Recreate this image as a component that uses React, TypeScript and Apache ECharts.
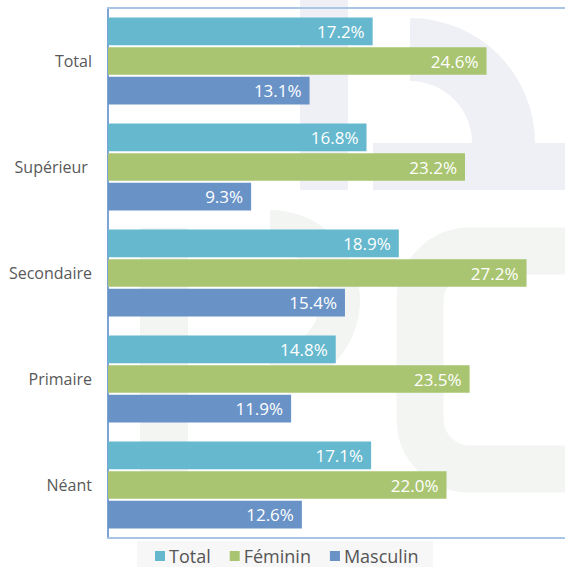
import React, { useEffect, useRef } from "react";
import * as echarts from "echarts";

const categories = ["Total", "Supérieur ", "Secondaire", "Primaire", "Néant"];
const seriesNames = ["Total", "Féminin", "Masculin"];
const totalValues = [17.2, 16.8, 18.9, 14.8, 17.1];
const femininValues = [24.6, 23.2, 27.2, 23.5, 22.0];
const masculinValues = [13.1, 9.3, 15.4, 11.9, 12.6];
const colors = ["#65b8cd", "#a9c571", "#6992c7"];

export default function App() {
  const ref = useRef<HTMLDivElement>(null);
  useEffect(() => {
    const chart = echarts.init(ref.current!, null, { renderer: "svg" });
    const wmBlue = "#eff0f6";
    const wmGreen = "#f3f5f2";
    const label = {
      show: true,
      position: "insideRight",
      distance: 8,
      color: "#ffffff",
      fontSize: 17,
      fontFamily: "Open Sans",
      formatter: (p: any) => p.value.toFixed(1) + "%",
    };
    const data = [totalValues, femininValues, masculinValues];
    const frameLine = { show: true, lineStyle: { color: "#a9c5e6", width: 2 } };
    chart.setOption({
      animation: false,
      backgroundColor: "#ffffff",
      graphic: [
        { type: "rect", z: -10, shape: { x: 300, y: 0, width: 48, height: 190 }, style: { fill: wmBlue } },
        { type: "rect", z: -10, shape: { x: 373, y: 143, width: 200, height: 47 }, style: { fill: wmBlue } },
        {
          type: "sector", z: -10,
          shape: { cx: 410, cy: 143, r: 125, r0: 62, startAngle: -Math.PI / 2, endAngle: 0, clockwise: true },
          style: { fill: wmBlue },
        },
        {
          type: "rect", z: -10,
          shape: { x: 420, y: 251, width: 250, height: 218, r: 50 },
          style: { fill: "none", stroke: wmGreen, lineWidth: 47 },
        },
        { type: "rect", z: -10, shape: { x: 140, y: 228, width: 48, height: 265 }, style: { fill: wmGreen } },
        {
          type: "sector", z: -10,
          shape: { cx: 270, cy: 300, r: 90, r0: 50, startAngle: -Math.PI / 2, endAngle: Math.PI / 2, clockwise: true },
          style: { fill: wmGreen },
        },
        {
          type: "rect", z: -10, left: 137, top: 541,
          shape: { x: 0, y: 0, width: 296, height: 26 },
          style: { fill: "#f7f7f7" },
        },
      ],
      legend: {
        data: seriesNames,
        bottom: 1,
        left: 150,
        itemWidth: 10,
        itemHeight: 10,
        itemGap: 19,
        icon: "rect",
        padding: [4, 5, 1, 5],
        textStyle: { fontSize: 18, lineHeight: 18, color: "#555555", fontFamily: "Open Sans", padding: [0, 0, 0, -1] },
      },
      grid: {
        left: 108,
        top: 8,
        height: 530,
        right: -4,
        show: false,
      },
      xAxis: [
        {
          type: "value",
          min: 0,
          max: 29.7,
          position: "bottom",
          axisLine: frameLine,
          axisTick: { show: false },
          axisLabel: { show: false },
          splitLine: { show: false },
        },
        {
          type: "value",
          min: 0,
          max: 29.7,
          position: "top",
          axisLine: frameLine,
          axisTick: { show: false },
          axisLabel: { show: false },
          splitLine: { show: false },
        },
      ],
      yAxis: {
        type: "category",
        data: categories,
        inverse: true,
        axisLine: { show: true, lineStyle: { color: "#7ea4d6", width: 2 } },
        axisTick: { show: false },
        axisLabel: { fontSize: 16, color: "#595959", fontFamily: "Open Sans", margin: 16 },
      },
      series: seriesNames.map((name, i) => ({
        name,
        type: "bar",
        data: data[i],
        xAxisIndex: 0,
        itemStyle: { color: colors[i] },
        barCategoryGap: "18%",
        barGap: "7%",
        label,
      })),
    });
    return () => chart.dispose();
  }, []);
  return <div ref={ref} style={{ position: "fixed", left: 0, top: 0, width: 565, height: 567 }} />;
}
